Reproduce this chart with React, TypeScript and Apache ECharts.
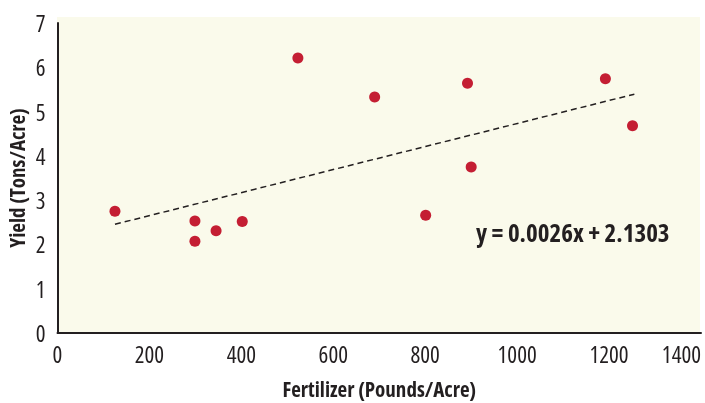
import React, { useEffect, useRef } from "react";
import * as echarts from "echarts";

const fertilizer = [125, 299, 299, 345, 402, 523, 690, 801, 892, 900, 1192, 1251];
const yieldTons = [2.75, 2.53, 2.07, 2.31, 2.52, 6.21, 5.33, 2.66, 5.64, 3.75, 5.74, 4.68];
const xTicks = [0, 200, 400, 600, 800, 1000, 1200, 1400];
const yTicks = [0, 1, 2, 3, 4, 5, 6, 7];
const slope = 0.0026;
const intercept = 2.1303;
const trendXRange = [125, 1255];
const equationLabel = "y = 0.0026x + 2.1303";

const COND = "'Open Sans';font-stretch:75%";
const INK = "#231f20";

export default function App() {
  const ref = useRef<HTMLDivElement>(null);
  useEffect(() => {
    if (!ref.current) return;
    const chart = echarts.init(ref.current, undefined, { renderer: "svg" });
    const points = fertilizer.map((x, i) => [x, yieldTons[i]]);
    const trend = trendXRange.map((x) => [x, slope * x + intercept]);
    chart.setOption({
      animation: false,
      grid: { left: 57.5, right: 4, top: 23, bottom: 70, outerBoundsMode: "none", containLabel: false },
      graphic: [
        {
          type: "rect",
          z: -10,
          silent: true,
          shape: { x: 57, y: 17, width: 643, height: 316 },
          style: { fill: "#fafaeb" },
        },
        {
          type: "text",
          x: 476,
          y: 232,
          z: 10,
          style: {
            text: equationLabel,
            fontFamily: COND,
            fontWeight: "bold",
            fontSize: 25,
            fill: INK,
            verticalAlign: "middle",
          },
        },
      ],
      xAxis: {
        type: "value",
        min: xTicks[0],
        max: xTicks[xTicks.length - 1],
        interval: 200,
        name: "Fertilizer (Pounds/Acre)",
        nameLocation: "middle",
        nameGap: 51,
        nameTextStyle: { fontFamily: COND, fontWeight: "bold", fontSize: 21, color: INK },
        axisLine: { show: true, lineStyle: { color: INK, width: 2 } },
        axisTick: { show: false },
        splitLine: { show: false },
        axisLabel: {
          fontFamily: COND,
          fontSize: 23,
          color: INK,
          margin: 16,
          alignMaxLabel: "right",
          formatter: (v: number) => String(v),
        },
      },
      yAxis: {
        type: "value",
        min: yTicks[0],
        max: yTicks[yTicks.length - 1],
        interval: 1,
        name: "Yield (Tons/Acre)",
        nameLocation: "middle",
        nameGap: 36,
        nameTextStyle: { fontFamily: COND, fontWeight: "bold", fontSize: 21, color: INK },
        axisLine: { show: true, lineStyle: { color: INK, width: 2 } },
        axisTick: { show: false },
        splitLine: { show: false },
        axisLabel: {
          fontFamily: COND,
          fontSize: 23,
          color: INK,
          margin: 12,
          formatter: (v: number) => String(v),
        },
      },
      series: [
        {
          type: "line",
          data: trend,
          symbol: "none",
          lineStyle: { color: INK, width: 1.5, type: [6, 4] },
          z: 2,
        },
        {
          type: "scatter",
          data: points,
          symbolSize: 11,
          itemStyle: { color: "#c41e33", opacity: 1 },
          z: 3,
        },
      ],
    });
    return () => chart.dispose();
  }, []);
  return (
    <div
      ref={ref}
      style={{ position: "fixed", left: 0, top: 0, width: 705, height: 403 }}
    />
  );
}
